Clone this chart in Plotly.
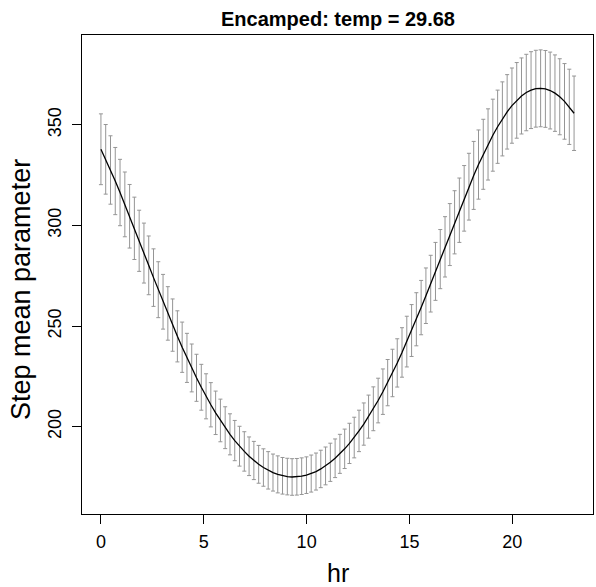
"""Step mean parameter by hour with confidence bars (R base-graphics look)."""
import plotly.graph_objects as go

TITLE = "Encamped: temp = 29.68"
X_LABEL = "hr"
Y_LABEL = "Step mean parameter"

hr = [
    0.000, 0.232, 0.465, 0.697, 0.929, 1.162, 1.394, 1.626, 1.859, 2.091,
    2.323, 2.556, 2.788, 3.020, 3.253, 3.485, 3.717, 3.949, 4.182, 4.414,
    4.646, 4.879, 5.111, 5.343, 5.576, 5.808, 6.040, 6.273, 6.505, 6.737,
    6.970, 7.202, 7.434, 7.667, 7.899, 8.131, 8.364, 8.596, 8.828, 9.061,
    9.293, 9.525, 9.758, 9.990, 10.222, 10.455, 10.687, 10.919, 11.152, 11.384,
    11.616, 11.848, 12.081, 12.313, 12.545, 12.778, 13.010, 13.242, 13.475, 13.707,
    13.939, 14.172, 14.404, 14.636, 14.869, 15.101, 15.333, 15.566, 15.798, 16.030,
    16.263, 16.495, 16.727, 16.960, 17.192, 17.424, 17.657, 17.889, 18.121, 18.354,
    18.586, 18.818, 19.051, 19.283, 19.515, 19.747, 19.980, 20.212, 20.444, 20.677,
    20.909, 21.141, 21.374, 21.606, 21.838, 22.071, 22.303, 22.535, 22.768, 23.000,
]

step_mean = [
    337.9, 332.9, 327.6, 322.1, 316.4, 310.5, 304.6, 298.6, 292.4, 286.3,
    280.2, 274.1, 268.1, 262.1, 256.3, 250.5, 244.9, 239.5, 234.2, 229.2,
    224.3, 219.6, 215.1, 210.9, 206.9, 203.1, 199.5, 196.2, 193.1, 190.3,
    187.7, 185.3, 183.2, 181.3, 179.7, 178.3, 177.2, 176.3, 175.6, 175.2,
    175.0, 175.1, 175.4, 175.9, 176.7, 177.7, 179.0, 180.5, 182.3, 184.3,
    186.5, 189.0, 191.7, 194.6, 197.9, 201.3, 205.0, 208.9, 213.0, 217.4,
    221.9, 226.7, 231.7, 236.9, 242.3, 247.8, 253.4, 259.2, 265.1, 271.1,
    277.2, 283.3, 289.4, 295.5, 301.6, 307.6, 313.5, 319.3, 324.9, 330.3,
    335.4, 340.3, 344.9, 349.1, 353.0, 356.5, 359.6, 362.2, 364.4, 366.1,
    367.3, 368.0, 368.2, 367.9, 367.1, 365.8, 364.0, 361.7, 359.0, 355.8,
]

# half-width of the interval around each mean
step_err = [
    17.6, 17.3, 17.0, 16.7, 16.5, 16.1, 15.8, 15.5, 15.2, 14.9,
    14.6, 14.3, 13.9, 13.6, 13.3, 13.0, 12.7, 12.5, 12.2, 11.9,
    11.7, 11.4, 11.2, 11.0, 10.8, 10.6, 10.4, 10.2, 10.0, 9.9,
    9.8, 9.6, 9.5, 9.4, 9.3, 9.3, 9.2, 9.2, 9.1, 9.1,
    9.1, 9.1, 9.1, 9.1, 9.2, 9.2, 9.3, 9.4, 9.5, 9.6,
    9.7, 9.8, 10.0, 10.1, 10.3, 10.5, 10.7, 10.9, 11.1, 11.3,
    11.5, 11.8, 12.0, 12.3, 12.6, 12.9, 13.2, 13.5, 13.8, 14.1,
    14.4, 14.7, 15.0, 15.4, 15.7, 16.0, 16.3, 16.6, 16.9, 17.2,
    17.4, 17.7, 17.9, 18.2, 18.4, 18.5, 18.7, 18.8, 18.9, 19.0,
    19.1, 19.1, 19.1, 19.1, 19.1, 19.0, 18.9, 18.8, 18.7, 18.5,
]

x_ticks = [0, 5, 10, 15, 20]
y_ticks = [200, 250, 300, 350]

FONT = "Liberation Sans, Arial, Helvetica, sans-serif"

# plot box in pixels (matches the R device layout)
W, H = 596, 587
L, R, T, B = 82, 3, 35, 73
PW, PH = W - L - R, H - T - B

bars = go.Scatter(
    x=hr,
    y=step_mean,
    mode="markers",
    marker=dict(size=0.1, color="rgba(0,0,0,0)"),
    error_y=dict(
        type="data",
        array=step_err,
        color="#959595",
        thickness=1,
        width=2,
    ),
    hoverinfo="skip",
)

line = go.Scatter(
    x=hr,
    y=step_mean,
    mode="lines",
    line=dict(color="#000000", width=1.3),
)

axis_common = dict(
    showgrid=False,
    zeroline=False,
    showline=True,
    mirror=True,
    linecolor="#000000",
    linewidth=1,
    ticks="outside",
    ticklen=9,
    tickwidth=1,
    tickcolor="#000000",
    tickfont=dict(family=FONT, size=18, color="#000000"),
    automargin=False,
)

fig = go.Figure(data=[bars, line])
fig.update_layout(
    width=W,
    height=H,
    showlegend=False,
    plot_bgcolor="#ffffff",
    paper_bgcolor="#ffffff",
    margin=dict(l=L, r=R, t=T, b=B),
    xaxis=dict(
        **axis_common,
        range=[-0.92, 23.92],
        tickvals=x_ticks,
        ticklabelstandoff=2,
    ),
    yaxis=dict(
        **axis_common,
        range=[156.6, 394.7],
        tickvals=y_ticks,
        tickangle=-90,
        ticklabelstandoff=4,
    ),
    annotations=[
        dict(
            text=f"<b>{TITLE}</b>",
            xref="paper", yref="paper",
            x=0.5, y=1 + (T - 18.5) / PH,
            xanchor="center", yanchor="middle",
            showarrow=False,
            font=dict(family=FONT, size=20, color="#000000"),
        ),
        dict(
            text=X_LABEL,
            xref="paper", yref="paper",
            x=0.5, y=-(573 - (H - B)) / PH,
            xanchor="center", yanchor="middle",
            showarrow=False,
            font=dict(family=FONT, size=25, color="#000000"),
        ),
        dict(
            text=Y_LABEL,
            xref="paper", yref="paper",
            x=-(L - 21) / PW, y=(H - B - 290) / PH,
            xanchor="center", yanchor="middle",
            textangle=-90,
            showarrow=False,
            font=dict(family=FONT, size=27, color="#000000"),
        ),
    ],
)

# drop the page's default 8px body margin so the figure sits at (0, 0)
fig.write_html(
    "out.html",
    config={"displayModeBar": False},
    post_script="document.body.style.margin='0';document.body.style.overflow='hidden';",
)
